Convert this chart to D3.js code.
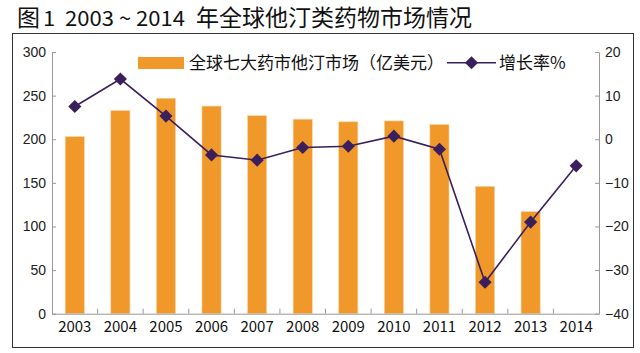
<!DOCTYPE html>
<html>
<head>
<meta charset="utf-8">
<script src="https://cdn.jsdelivr.net/npm/d3@7"></script>
<style>
  body { margin: 0; background: #fff; }
  svg { display: block; }
  .axis path, .axis line { stroke: #999; }
  .axis text { font-family: "Liberation Sans", Arial, sans-serif; font-size: 14px; fill: #222; }
  .axis--x text { font-family: "Noto Sans CJK SC", sans-serif; font-size: 15px; fill: #111; }
</style>
</head>
<body>
<svg id="chart"></svg>
<script>
// chart data
var years = ["2003", "2004", "2005", "2006", "2007", "2008", "2009", "2010", "2011", "2012", "2013", "2014"];
var market = [203, 233, 247, 238, 227, 223, 220, 221, 217, 146, 117, null];
var growth = [7.5, 13.8, 5.3, -3.6, -4.8, -1.9, -1.6, 0.7, -2.3, -32.8, -19.0, -6.1];
var leftTicks = [0, 50, 100, 150, 200, 250, 300];
var rightTicks = [-40, -30, -20, -10, 0, 10, 20];
var titleParts = ["图", "1  2003 ~ 2014", "年全球他汀类药物市场情况"];
var barName = "全球七大药市他汀市场（亿美元）";
var lineName = "增长率%";

var W = 640, H = 353;
var svg = d3.select("#chart").attr("width", W).attr("height", H);

var plotLeft = 52, plotRight = 599, plotTop = 52, plotBottom = 313.7;
var orange = "#F0992A", purple = "#3B1F5C";

// title, in three pieces so the digits can be narrower like the original
var tg = svg.append("g")
    .attr("font-family", "Noto Sans CJK SC, sans-serif")
    .attr("fill", "#111");
tg.append("text").attr("x", 17).attr("y", 26).attr("font-size", 23).text(titleParts[0]);
tg.append("text").attr("x", 43).attr("y", 26).attr("font-size", 21)
    .style("white-space", "pre")
    .attr("textLength", 142).attr("lengthAdjust", "spacingAndGlyphs")
    .text(titleParts[1]);
tg.append("text").attr("x", 196).attr("y", 26).attr("font-size", 23).text(titleParts[2]);

// frame
svg.append("rect")
    .attr("x", 12.5).attr("y", 33.5)
    .attr("width", 621).attr("height", 314)
    .attr("fill", "none")
    .attr("stroke", "#333")
    .attr("stroke-width", 1);

var x = d3.scaleBand().domain(years).range([plotLeft, plotRight]).paddingInner(0.58).paddingOuter(0.29);
var xCenter = function (d) { return x(d) + x.bandwidth() / 2; };
var step = x.step();

var yL = d3.scaleLinear().domain([0, 300]).range([plotBottom, plotTop]);
var yR = d3.scaleLinear().domain([-40, 20]).range([plotBottom, plotTop]);

// bars
svg.append("g").selectAll("rect")
    .data(years.map(function (d, i) { return { year: d, v: market[i] }; }).filter(function (d) { return d.v != null; }))
    .enter().append("rect")
    .attr("x", function (d) { return x(d.year); })
    .attr("y", function (d) { return yL(d.v); })
    .attr("width", x.bandwidth())
    .attr("height", function (d) { return yL(0) - yL(d.v); })
    .attr("fill", orange)
    .attr("stroke", "#F8D6A6")
    .attr("stroke-width", 0.6);

// left axis
svg.append("g")
    .attr("class", "axis axis--y")
    .attr("transform", "translate(" + plotLeft + ",0)")
    .call(d3.axisRight(yL).tickValues(leftTicks).tickSize(4).tickSizeOuter(0))
    .call(function (g) {
        g.selectAll("text").attr("x", -6).attr("text-anchor", "end");
    });

// right axis
svg.append("g")
    .attr("class", "axis axis--y2")
    .attr("transform", "translate(" + plotRight + ",0)")
    .call(d3.axisLeft(yR).tickValues(rightTicks).tickSize(4).tickSizeOuter(0))
    .call(function (g) {
        g.selectAll("text").attr("x", 6).attr("text-anchor", "start");
    });

// x axis with ticks between categories
var xAxis = svg.append("g")
    .attr("class", "axis axis--x")
    .attr("transform", "translate(0," + plotBottom + ")")
    .call(d3.axisBottom(x).tickSize(0).tickSizeOuter(0));
xAxis.selectAll("text").attr("dy", "1.05em");
xAxis.selectAll(".sep")
    .data(years.slice(1))
    .enter().append("line")
    .attr("class", "sep")
    .attr("x1", function (d) { return xCenter(d) - step / 2; })
    .attr("x2", function (d) { return xCenter(d) - step / 2; })
    .attr("y1", 0).attr("y2", -5);

// growth line
var line = d3.line()
    .x(function (d, i) { return xCenter(years[i]); })
    .y(function (d) { return yR(d); });

svg.append("path")
    .datum(growth)
    .attr("d", line)
    .attr("fill", "none")
    .attr("stroke", purple)
    .attr("stroke-width", 1.6);

var diamond = d3.symbol().type(d3.symbolDiamond2).size(110);
svg.append("g").selectAll("path")
    .data(growth)
    .enter().append("path")
    .attr("d", diamond)
    .attr("transform", function (d, i) { return "translate(" + xCenter(years[i]) + "," + yR(d) + ")"; })
    .attr("fill", purple);

// legend
var lg = svg.append("g").attr("font-family", "Noto Sans CJK SC, sans-serif").attr("font-size", 17).attr("fill", "#111");
lg.append("rect").attr("x", 138).attr("y", 57).attr("width", 46).attr("height", 12).attr("fill", orange);
lg.append("text").attr("x", 189).attr("y", 69).text(barName);
lg.append("line").attr("x1", 447).attr("x2", 496).attr("y1", 62.7).attr("y2", 62.7)
    .attr("stroke", purple).attr("stroke-width", 1.6);
lg.append("path").attr("d", diamond).attr("transform", "translate(471.5,62.7)").attr("fill", purple);
lg.append("text").attr("x", 499).attr("y", 69).text(lineName);
</script>
</body>
</html>
